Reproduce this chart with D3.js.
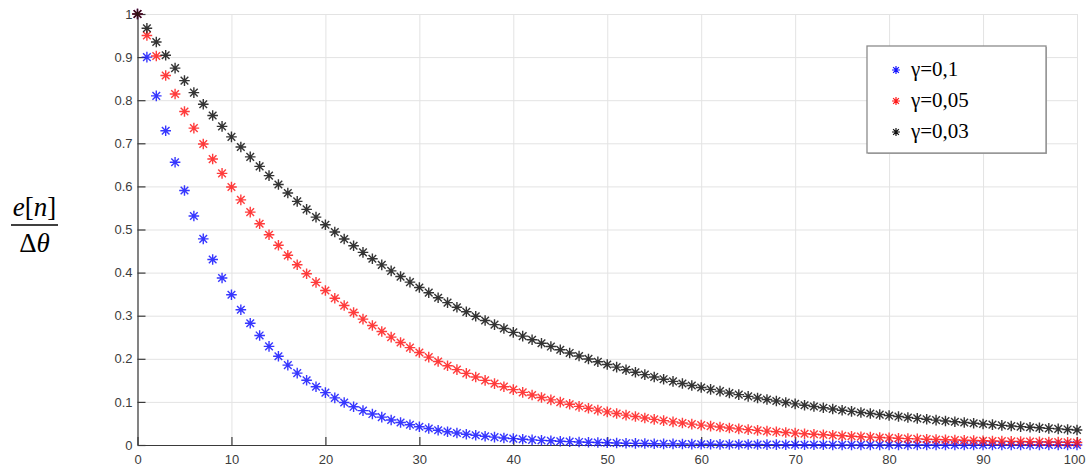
<!DOCTYPE html>
<html>
<head>
<meta charset="utf-8">
<script src="https://cdn.jsdelivr.net/npm/d3@7"></script>
<style>
  body { margin: 0; background: #fff; }
  svg { display: block; }
  .tick text { font-family: "Liberation Sans", Arial, sans-serif; font-size: 13px; fill: #3c3c3c; }
</style>
</head>
<body>
<div id="chart"></div>
<script>
// e[n]/Δθ, n = 0..100
var gamma01 = [
  1, 0.9, 0.81, 0.729, 0.6561, 0.5905, 0.5314, 0.4783, 0.4305, 0.3874,
  0.3487, 0.3138, 0.2824, 0.2542, 0.2288, 0.2059, 0.1853, 0.1668, 0.1501, 0.1351,
  0.1216, 0.1094, 0.0985, 0.0886, 0.0798, 0.0718, 0.0646, 0.0581, 0.0523, 0.0471,
  0.0424, 0.0382, 0.0343, 0.0309, 0.0278, 0.0250, 0.0225, 0.0203, 0.0182, 0.0164,
  0.0148, 0.0133, 0.0120, 0.0108, 0.0097, 0.0087, 0.0079, 0.0071, 0.0064, 0.0057,
  0.0052, 0.0046, 0.0042, 0.0038, 0.0034, 0.0030, 0.0027, 0.0025, 0.0022, 0.0020,
  0.0018, 0.0016, 0.0015, 0.0013, 0.0012, 0.0011, 0.0010, 0.0009, 0.0008, 0.0007,
  0.0006, 0.0006, 0.0005, 0.0005, 0.0004, 0.0004, 0.0003, 0.0003, 0.0003, 0.0002,
  0.0002, 0.0002, 0.0002, 0.0002, 0.0001, 0.0001, 0.0001, 0.0001, 0.0001, 0.0001,
  0.0001, 0.0001, 0.0001, 0, 0, 0, 0, 0, 0, 0,
  0
];
var gamma005 = [
  1, 0.95, 0.9025, 0.8574, 0.8145, 0.7738, 0.7351, 0.6983, 0.6634, 0.6302,
  0.5987, 0.5688, 0.5404, 0.5133, 0.4877, 0.4633, 0.4401, 0.4181, 0.3972, 0.3774,
  0.3585, 0.3406, 0.3235, 0.3074, 0.2920, 0.2774, 0.2635, 0.2503, 0.2378, 0.2259,
  0.2146, 0.2039, 0.1937, 0.1840, 0.1748, 0.1661, 0.1578, 0.1499, 0.1424, 0.1353,
  0.1285, 0.1221, 0.1160, 0.1102, 0.1047, 0.0994, 0.0945, 0.0897, 0.0853, 0.0810,
  0.0769, 0.0731, 0.0694, 0.0660, 0.0627, 0.0595, 0.0566, 0.0537, 0.0510, 0.0485,
  0.0461, 0.0438, 0.0416, 0.0395, 0.0375, 0.0356, 0.0339, 0.0322, 0.0306, 0.0290,
  0.0276, 0.0262, 0.0249, 0.0237, 0.0225, 0.0213, 0.0203, 0.0193, 0.0183, 0.0174,
  0.0165, 0.0157, 0.0149, 0.0142, 0.0135, 0.0128, 0.0121, 0.0115, 0.0110, 0.0104,
  0.0099, 0.0094, 0.0089, 0.0085, 0.0081, 0.0077, 0.0073, 0.0069, 0.0066, 0.0062,
  0.0059
];
var gamma003 = [
  1, 0.967, 0.9351, 0.9042, 0.8744, 0.8455, 0.8176, 0.7907, 0.7646, 0.7393,
  0.7149, 0.6913, 0.6685, 0.6465, 0.6251, 0.6045, 0.5846, 0.5653, 0.5466, 0.5286,
  0.5111, 0.4943, 0.4780, 0.4622, 0.4469, 0.4322, 0.4179, 0.4041, 0.3908, 0.3779,
  0.3654, 0.3534, 0.3417, 0.3304, 0.3195, 0.3090, 0.2988, 0.2889, 0.2794, 0.2702,
  0.2613, 0.2526, 0.2443, 0.2362, 0.2284, 0.2209, 0.2136, 0.2066, 0.1997, 0.1932,
  0.1868, 0.1806, 0.1747, 0.1689, 0.1633, 0.1579, 0.1527, 0.1477, 0.1428, 0.1381,
  0.1335, 0.1291, 0.1249, 0.1207, 0.1168, 0.1129, 0.1092, 0.1056, 0.1021, 0.0987,
  0.0955, 0.0923, 0.0893, 0.0863, 0.0835, 0.0807, 0.0781, 0.0755, 0.0730, 0.0706,
  0.0683, 0.0660, 0.0638, 0.0617, 0.0597, 0.0577, 0.0558, 0.0540, 0.0522, 0.0505,
  0.0488, 0.0472, 0.0456, 0.0441, 0.0427, 0.0413, 0.0399, 0.0386, 0.0373, 0.0361,
  0.0349
];
var seriesNames = ["γ=0,1", "γ=0,05", "γ=0,03"];
var seriesColors = ["#1414ff", "#ff1a1a", "#111111"];
var xTicks = [0, 10, 20, 30, 40, 50, 60, 70, 80, 90, 100];
var yTicks = [0, 0.1, 0.2, 0.3, 0.4, 0.5, 0.6, 0.7, 0.8, 0.9, 1];

var W = 1086, H = 468;
var margin = {top: 14, right: 9, bottom: 23, left: 137.5};
var width = W - margin.left - margin.right,
    height = H - margin.top - margin.bottom;

var svg = d3.select("#chart").append("svg")
    .attr("width", W)
    .attr("height", H);

var g = svg.append("g")
    .attr("transform", `translate(${margin.left},${margin.top})`);

var xScale = d3.scaleLinear().domain([0, 100]).range([0, width]);
var yScale = d3.scaleLinear().domain([0, 1]).range([height, 0]);

// grid
g.append("g")
    .attr("class", "grid")
    .attr("transform", `translate(0,${height})`)
    .call(d3.axisBottom(xScale).tickValues(xTicks).tickSize(-height).tickFormat(""))
    .call(s => s.select(".domain").remove())
    .selectAll("line").attr("stroke", "#e3e3e3").attr("stroke-width", 1);
g.append("g")
    .attr("class", "grid")
    .call(d3.axisLeft(yScale).tickValues(yTicks).tickSize(-width).tickFormat(""))
    .call(s => s.select(".domain").remove())
    .selectAll("line").attr("stroke", "#e3e3e3").attr("stroke-width", 1);

// axes, ticks pointing inward like matlab
var xAxis = g.append("g")
    .attr("class", "axis x-axis")
    .attr("transform", `translate(0,${height})`)
    .call(d3.axisBottom(xScale).tickValues(xTicks).tickSizeInner(-8).tickSizeOuter(0).tickPadding(10).tickFormat(d3.format("d")));
var yAxis = g.append("g")
    .attr("class", "axis y-axis")
    .call(d3.axisLeft(yScale).tickValues(yTicks).tickSizeInner(-8).tickSizeOuter(0).tickPadding(5).tickFormat(d3.format("~g")));
g.selectAll(".axis .domain").attr("stroke", "#3a3a3a").attr("stroke-width", 1.2);
g.selectAll(".axis .tick line").attr("stroke", "#3a3a3a").attr("stroke-width", 1.2);
// last x label sits against the right edge
xAxis.selectAll(".tick text").filter(d => d === 100)
    .attr("text-anchor", "end").attr("dx", 8);

// asterisk marker
function star(r) {
    var d = r * 0.72;
    return `M${-r},0H${r}M0,${-r}V${r}M${-d},${-d}L${d},${d}M${-d},${d}L${d},${-d}`;
}

var allSeries = [gamma01, gamma005, gamma003];
allSeries.forEach(function(vals, k) {
    g.append("g").attr("class", "series s" + k)
        .selectAll("path.pt").data(vals).enter().append("path")
        .attr("class", "pt")
        .attr("d", star(5.3))
        .attr("transform", (d, i) => `translate(${xScale(i)},${yScale(d)})`)
        .attr("fill", "none")
        .attr("stroke", seriesColors[k])
        .attr("stroke-width", 1.4)
        .attr("stroke-opacity", 0.85);
});

// legend
var lx = 867, ly = 46, lw = 179, lh = 107;
svg.append("rect")
    .attr("x", lx + 1).attr("y", ly + 1).attr("width", lw).attr("height", lh)
    .attr("fill", "#b0b0b0");
svg.append("rect")
    .attr("x", lx).attr("y", ly).attr("width", lw).attr("height", lh)
    .attr("fill", "#fff").attr("stroke", "#8c8c8c").attr("stroke-width", 1.3);
var leg = svg.append("g").attr("class", "legend");
seriesNames.forEach(function(name, k) {
    var yy = ly + 23 + k * 31;
    leg.append("path")
        .attr("d", star(4))
        .attr("transform", `translate(${lx + 29},${yy + 1})`)
        .attr("fill", "none")
        .attr("stroke", seriesColors[k])
        .attr("stroke-width", 1.2);
    leg.append("text")
        .attr("x", lx + 44)
        .attr("y", yy + 7)
        .attr("font-family", "'Liberation Serif', 'Times New Roman', serif")
        .attr("font-size", 21)
        .attr("fill", "#000")
        .text(name);
});

// y label as a fraction
var lab = svg.append("g").attr("class", "ylabel")
    .attr("font-family", "'Liberation Serif', 'Times New Roman', serif")
    .attr("font-size", 27)
    .attr("fill", "#000");
var num = lab.append("text").attr("x", 34.5).attr("y", 216).attr("text-anchor", "middle");
num.append("tspan").attr("font-style", "italic").text("e");
num.append("tspan").text("[");
num.append("tspan").attr("font-style", "italic").text("n");
num.append("tspan").text("]");
lab.append("line")
    .attr("x1", 11).attr("x2", 58).attr("y1", 225).attr("y2", 225)
    .attr("stroke", "#000").attr("stroke-width", 1.3);
var den = lab.append("text").attr("x", 34.5).attr("y", 252).attr("text-anchor", "middle");
den.append("tspan").text("Δ");
den.append("tspan").attr("font-style", "italic").text("θ");
</script>
</body>
</html>
